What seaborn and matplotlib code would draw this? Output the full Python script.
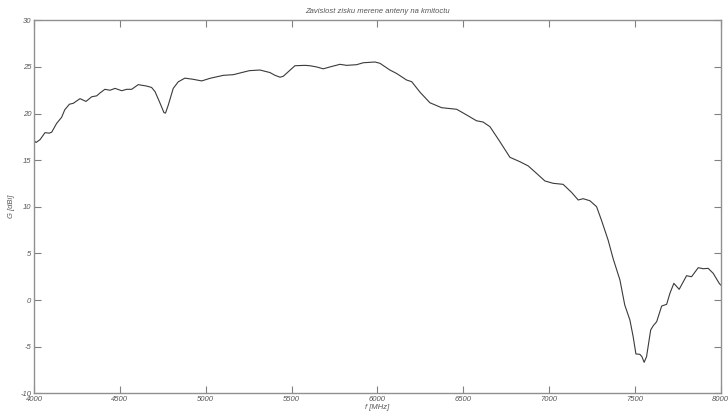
import matplotlib
matplotlib.use("Agg")
import matplotlib.pyplot as plt
import seaborn as sns
import pandas as pd

freq_mhz = [4000, 4012, 4035, 4064, 4089, 4103, 4132, 4161, 4179, 4206, 4229, 4268, 4303,
            4336, 4365, 4384, 4413, 4443, 4472, 4511, 4540, 4569, 4607, 4656, 4685, 4705,
            4730, 4757, 4766, 4782, 4811, 4840, 4879, 4928, 4977, 5025, 5103, 5161, 5254,
            5316, 5374, 5404, 5433, 5452, 5520, 5578, 5607, 5646, 5685, 5724, 5782, 5821,
            5879, 5918, 5986, 6015, 6073, 6112, 6170, 6200, 6248, 6306, 6374, 6462, 6520,
            6577, 6616, 6656, 6714, 6772, 6830, 6879, 6927, 6976, 7024, 7082, 7131, 7170,
            7199, 7238, 7277, 7305, 7344, 7374, 7413, 7441, 7471, 7490, 7506, 7529, 7541,
            7554, 7568, 7592, 7607, 7627, 7656, 7685, 7704, 7727, 7758, 7801, 7830, 7869,
            7898, 7927, 7956, 7991, 8000]
gain_dbi = [17.1, 16.9, 17.2, 17.95, 17.9, 18.0, 18.95, 19.6, 20.4, 21.0, 21.1, 21.6, 21.3,
            21.8, 21.9, 22.2, 22.6, 22.5, 22.7, 22.45, 22.6, 22.6, 23.1, 22.95, 22.8, 22.35,
            21.3, 20.1, 20.05, 20.9, 22.7, 23.4, 23.8, 23.67, 23.5, 23.78, 24.1, 24.17, 24.6,
            24.67, 24.4, 24.1, 23.9, 24.0, 25.13, 25.17, 25.13, 25.0, 24.8, 25.0, 25.28, 25.17,
            25.24, 25.45, 25.53, 25.39, 24.67, 24.3, 23.6, 23.42, 22.3, 21.16, 20.63, 20.46, 19.85,
            19.23, 19.09, 18.59, 16.98, 15.31, 14.84, 14.38, 13.59, 12.77, 12.52, 12.41, 11.55, 10.73,
            10.87, 10.65, 10.01, 8.58, 6.44, 4.4, 2.15, -0.53, -2.14, -3.93, -5.78, -5.82, -6.07,
            -6.68, -6.07, -3.21, -2.75, -2.32, -0.64, -0.46, 0.72, 1.79, 1.15, 2.61, 2.5, 3.47,
            3.36, 3.4, 2.87, 1.8, 1.6]

x_ticks = [4000, 4500, 5000, 5500, 6000, 6500, 7000, 7500, 8000]
y_ticks = [-10, -5, 0, 5, 10, 15, 20, 25, 30]
title = "Zavislost zisku merene anteny na kmitoctu"
x_label = "f [MHz]"
y_label = "G [dBi]"

sns.set_style("white")
plt.rcParams['font.family'] = ['Liberation Sans', 'DejaVu Sans']

df = pd.DataFrame({"f": freq_mhz, "G": gain_dbi})

fig = plt.figure(figsize=(7.28, 4.18), dpi=100)
ax = fig.add_axes([0.0467, 0.0591, 0.9433, 0.8923])
sns.lineplot(data=df, x="f", y="G", ax=ax, color="#3a3a3a", linewidth=0.8)

ax.set_xlim(4000, 8000)
ax.set_ylim(-10, 30)
ax.set_xticks(x_ticks)
ax.set_yticks(y_ticks)
ax.set_xticklabels([str(t) for t in x_ticks], fontstyle='italic', fontsize=5.5, color='#555555')
ax.set_yticklabels([str(t) for t in y_ticks], fontstyle='italic', fontsize=5.5, color='#555555')
ax.tick_params(axis='both', direction='in', length=5, width=0.8, color='#808080',
               top=True, right=True, bottom=True, left=True, pad=2)
for s in ax.spines.values():
    s.set_color('#909090')
    s.set_linewidth(1.0)
ax.set_title(title, fontstyle='italic', fontsize=5.5, color='#555555', pad=5)
ax.set_xlabel(x_label, fontstyle='italic', fontsize=5.5, color='#555555', labelpad=1)
ax.set_ylabel(y_label, fontstyle='italic', fontsize=5.5, color='#555555', labelpad=4)

fig.savefig("out.png", dpi=100)
